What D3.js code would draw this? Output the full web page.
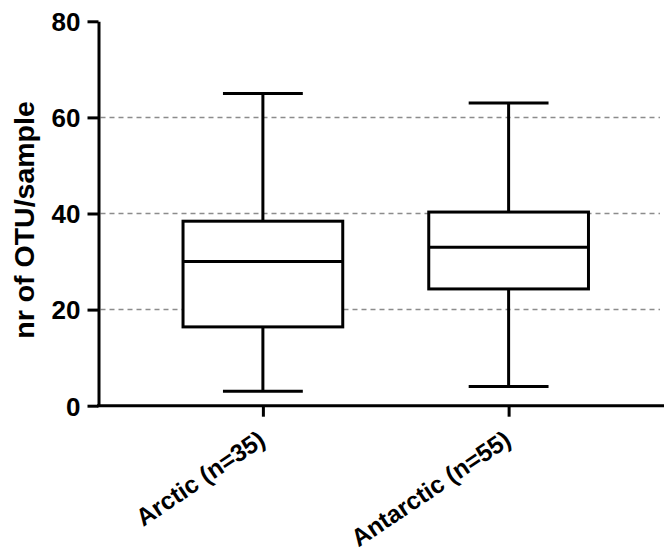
<!DOCTYPE html>
<html>
<head>
<meta charset="utf-8">
<script src="https://cdn.jsdelivr.net/npm/d3@7"></script>
<style>
  body { margin: 0; background: #fff; }
  svg text { font-family: "Liberation Sans", Arial, sans-serif; font-weight: bold; fill: #000; }
</style>
</head>
<body>
<div id="chart"></div>
<script>
const width = 664;
const height = 556;

// box plot summaries
const groups = ["Arctic (n=35)", "Antarctic (n=55)"];
const minVals = [3, 4];
const q1Vals = [16.4, 24.3];
const medianVals = [30, 33];
const q3Vals = [38.4, 40.3];
const maxVals = [65, 63];
const yTicks = [0, 20, 40, 60, 80];
const gridTicks = [20, 40, 60];

const axisX = 98.5;
const axisY = 405.7;

const svg = d3.select("#chart")
    .append("svg")
    .attr("width", width)
    .attr("height", height);

const y = d3.scaleLinear()
    .domain([0, 80])
    .range([axisY, 21.3]);

const x = d3.scalePoint()
    .domain(groups)
    .range([axisX, 673])
    .padding(0.669);

const boxWidth = x.step() * 0.65;
const capWidth = boxWidth * 0.5;

// dashed grid lines
svg.append("g")
    .selectAll("line")
    .data(gridTicks)
    .join("line")
    .attr("x1", axisX + 2)
    .attr("x2", 660)
    .attr("y1", d => y(d))
    .attr("y2", d => y(d))
    .attr("stroke", "#8c8c8c")
    .attr("stroke-width", 1.5)
    .attr("stroke-dasharray", "5,4");

const boxes = groups.map((g, i) => ({
    name: g,
    min: minVals[i],
    q1: q1Vals[i],
    median: medianVals[i],
    q3: q3Vals[i],
    max: maxVals[i]
}));

const boxG = svg.append("g")
    .selectAll("g")
    .data(boxes)
    .join("g")
    .attr("transform", d => `translate(${x(d.name)},0)`)
    .attr("stroke", "#000")
    .attr("stroke-width", 3);

// whiskers
boxG.append("line")
    .attr("x1", 0).attr("x2", 0)
    .attr("y1", d => y(d.max))
    .attr("y2", d => y(d.q3));
boxG.append("line")
    .attr("x1", 0).attr("x2", 0)
    .attr("y1", d => y(d.q1))
    .attr("y2", d => y(d.min));
boxG.append("line")
    .attr("x1", -capWidth / 2).attr("x2", capWidth / 2)
    .attr("y1", d => y(d.max)).attr("y2", d => y(d.max));
boxG.append("line")
    .attr("x1", -capWidth / 2).attr("x2", capWidth / 2)
    .attr("y1", d => y(d.min)).attr("y2", d => y(d.min));

// box + median
boxG.append("rect")
    .attr("x", -boxWidth / 2)
    .attr("width", boxWidth)
    .attr("y", d => y(d.q3))
    .attr("height", d => y(d.q1) - y(d.q3))
    .attr("fill", "#fff");
boxG.append("line")
    .attr("x1", -boxWidth / 2).attr("x2", boxWidth / 2)
    .attr("y1", d => y(d.median)).attr("y2", d => y(d.median));

// y axis
const yAxis = svg.append("g")
    .attr("transform", `translate(${axisX},0)`)
    .call(d3.axisLeft(y).tickValues(yTicks).tickSize(11).tickSizeOuter(0).tickPadding(7));
yAxis.select(".domain").attr("stroke-width", 3);
yAxis.selectAll(".tick line").attr("stroke-width", 3);
yAxis.selectAll(".tick text")
    .attr("font-size", 26)
    .attr("dy", "0.36em");

// x axis
const xAxis = svg.append("g")
    .attr("transform", `translate(0,${axisY})`)
    .call(d3.axisBottom(x).tickSize(11).tickSizeOuter(0).tickFormat(""));
xAxis.select(".domain")
    .attr("d", `M${axisX - 1.5},0H${width + 10}`)
    .attr("stroke-width", 3);
xAxis.selectAll(".tick line").attr("stroke-width", 3);

svg.append("g")
    .selectAll("text")
    .data(groups)
    .join("text")
    .attr("text-anchor", "end")
    .attr("font-size", 24.5)
    .attr("transform", d => `translate(${x(d) + 4},${axisY + 38}) rotate(-34)`)
    .text(d => d);

// y title
svg.append("text")
    .attr("text-anchor", "middle")
    .attr("font-size", 28.5)
    .attr("transform", `translate(34,220) rotate(-90)`)
    .text("nr of OTU/sample");
</script>
</body>
</html>
